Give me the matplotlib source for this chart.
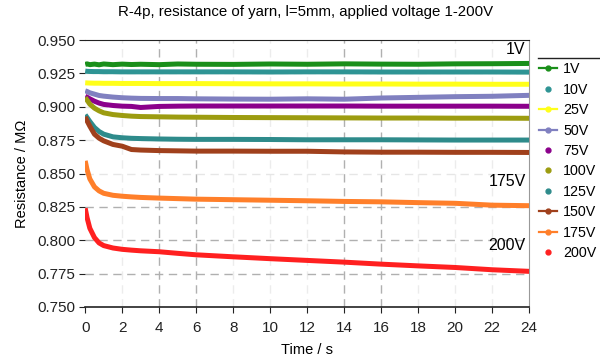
import matplotlib
matplotlib.use("Agg")
import matplotlib.pyplot as plt
from matplotlib.lines import Line2D

plt.rcParams['font.family'] = ['Liberation Sans', 'DejaVu Sans']

times = [0, 0.1, 0.25, 0.5, 0.75, 1, 1.5, 2, 2.5, 3, 4, 5, 6, 8, 10, 12, 14, 16, 18, 20, 22, 24]

labels = ["1V", "10V", "25V", "50V", "75V", "100V", "125V", "150V", "175V", "200V"]
colors = ["#1a8f1a", "#2e9494", "#ffff1a", "#8080c0", "#8b008b",
          "#9c9c10", "#2e8b8b", "#a0401c", "#ff7f2a", "#ff2020"]
with_line = [True, False, True, True, False, False, False, True, True, False]

r_1v = [0.9318, 0.9322, 0.9316, 0.9320, 0.9315, 0.9321, 0.9316, 0.9320, 0.9317, 0.9319, 0.9316, 0.9321,
        0.9319, 0.9318, 0.9321, 0.9319, 0.9322, 0.9320, 0.9319, 0.9322, 0.9323, 0.9325]
r_10v = [0.9268, 0.9266, 0.9265, 0.9264, 0.9264, 0.9263, 0.9263, 0.9262, 0.9262, 0.9262, 0.9262, 0.9262,
         0.9262, 0.9262, 0.9261, 0.9262, 0.9262, 0.9261, 0.9261, 0.9261, 0.9261, 0.9260]
r_25v = [0.9180, 0.9179, 0.9178, 0.9177, 0.9177, 0.9176, 0.9176, 0.9175, 0.9175, 0.9175, 0.9174, 0.9174,
         0.9174, 0.9173, 0.9172, 0.9172, 0.9171, 0.9171, 0.9170, 0.9170, 0.9169, 0.9169]
r_50v = [0.9120, 0.9115, 0.9105, 0.9095, 0.9085, 0.9080, 0.9073, 0.9068, 0.9065, 0.9063, 0.9062, 0.9062,
         0.9060, 0.9058, 0.9057, 0.9060, 0.9057, 0.9066, 0.9071, 0.9076, 0.9079, 0.9086]
r_75v = [0.9078, 0.9072, 0.9060, 0.9042, 0.9028, 0.9018, 0.9010, 0.9005, 0.9003, 0.8995, 0.9003, 0.9005,
         0.9006, 0.9006, 0.9006, 0.9006, 0.9006, 0.9005, 0.9005, 0.9005, 0.9005, 0.9004]
r_100v = [0.9070, 0.9050, 0.9020, 0.8990, 0.8970, 0.8955, 0.8942, 0.8935, 0.8930, 0.8927, 0.8925, 0.8923,
          0.8922, 0.8920, 0.8919, 0.8918, 0.8917, 0.8916, 0.8916, 0.8915, 0.8915, 0.8914]
r_125v = [0.8940, 0.8920, 0.8890, 0.8845, 0.8815, 0.8795, 0.8775, 0.8768, 0.8764, 0.8762, 0.8759, 0.8757,
          0.8756, 0.8756, 0.8755, 0.8753, 0.8753, 0.8753, 0.8752, 0.8751, 0.8751, 0.8751]
r_150v = [0.8925, 0.8895, 0.8855, 0.8795, 0.8765, 0.8745, 0.8718, 0.8705, 0.8680, 0.8676, 0.8672, 0.8670,
          0.8668, 0.8668, 0.8667, 0.8667, 0.8662, 0.8660, 0.8660, 0.8659, 0.8659, 0.8658]
r_175v = [0.8595, 0.8530, 0.8460, 0.8400, 0.8370, 0.8352, 0.8337, 0.8330, 0.8325, 0.8321, 0.8316, 0.8312,
          0.8308, 0.8304, 0.8300, 0.8296, 0.8291, 0.8288, 0.8282, 0.8277, 0.8263, 0.8259]
r_200v = [0.8240, 0.8170, 0.8090, 0.8020, 0.7980, 0.7960, 0.7942, 0.7932, 0.7926, 0.7921, 0.7914, 0.7902,
          0.7891, 0.7876, 0.7862, 0.7849, 0.7836, 0.7821, 0.7808, 0.7796, 0.7779, 0.7767]
series = [r_1v, r_10v, r_25v, r_50v, r_75v, r_100v, r_125v, r_150v, r_175v, r_200v]

fig = plt.figure(figsize=(6.0, 3.58), dpi=100)
ax = fig.add_axes([0.142, 0.1425, 0.740, 0.7455])

for vals, c in zip(series, colors):
    ax.plot(times, vals, color=c, linewidth=3.6, solid_capstyle='butt', zorder=3)

ax.set_xlim(0, 24)
ax.set_ylim(0.750, 0.950)
ax.set_xticks(range(0, 25, 2))
ax.set_yticks([0.750, 0.775, 0.800, 0.825, 0.850, 0.875, 0.900, 0.925, 0.950])
ax.yaxis.set_major_formatter(matplotlib.ticker.FormatStrFormatter('%.3f'))
ax.tick_params(labelsize=11, colors='#222222', length=4)
ax.tick_params(axis='y', pad=3)
ax.tick_params(axis='x', pad=6)

for x in range(2, 24, 2):
    strong = x in (4, 6, 14, 16)
    ax.axvline(x, color='#b0b0b0' if strong else '#ececec', linestyle=(0, (6, 4)),
               linewidth=1.0, zorder=1)
for y in [0.775, 0.800, 0.825, 0.850, 0.875, 0.900, 0.925]:
    ax.axhline(y, color='#b0b0b0' if y < 0.83 else '#e6e6e6', linestyle=(0, (6, 4)),
               linewidth=1.0, zorder=1)

ax.spines['left'].set_visible(False)
ax.spines['top'].set_color('#222222')
ax.spines['bottom'].set_color('#222222')
ax.spines['right'].set_color('#999999')
ax.spines['bottom'].set_linewidth(1.2)

ax.set_xlabel("Time / s", fontsize=10.5, labelpad=6)
ax.set_ylabel("Resistance / M\u03a9", fontsize=10.5, labelpad=6)
fig.suptitle("R-4p, resistance of yarn, l=5mm, applied voltage 1-200V", fontsize=10.8, x=0.51, y=0.985)

ax.text(23.8, 0.943, "1V", ha='right', va='center', fontsize=11.5)
ax.text(23.8, 0.8437, "175V", ha='right', va='center', fontsize=11.5)
ax.text(23.8, 0.7958, "200V", ha='right', va='center', fontsize=11.5)

handles = []
for lab, c, wl in zip(labels, colors, with_line):
    if wl:
        handles.append(Line2D([], [], color=c, linewidth=1.6, marker='o', markersize=3.5, label=lab))
    else:
        handles.append(Line2D([], [], color=c, linestyle='None', marker='o', markersize=3.5, label=lab))
fig.legend(handles=handles, loc='upper left', bbox_to_anchor=(0.898, 0.826), frameon=False,
           fontsize=10.3, handlelength=1.3, handletextpad=0.4, labelspacing=0.45,
           borderpad=0, borderaxespad=0)
fig.add_artist(Line2D([0.897, 1.0], [0.838, 0.838], color='#222222', linewidth=1.0,
                      transform=fig.transFigure))

fig.savefig("out.png", dpi=100)
